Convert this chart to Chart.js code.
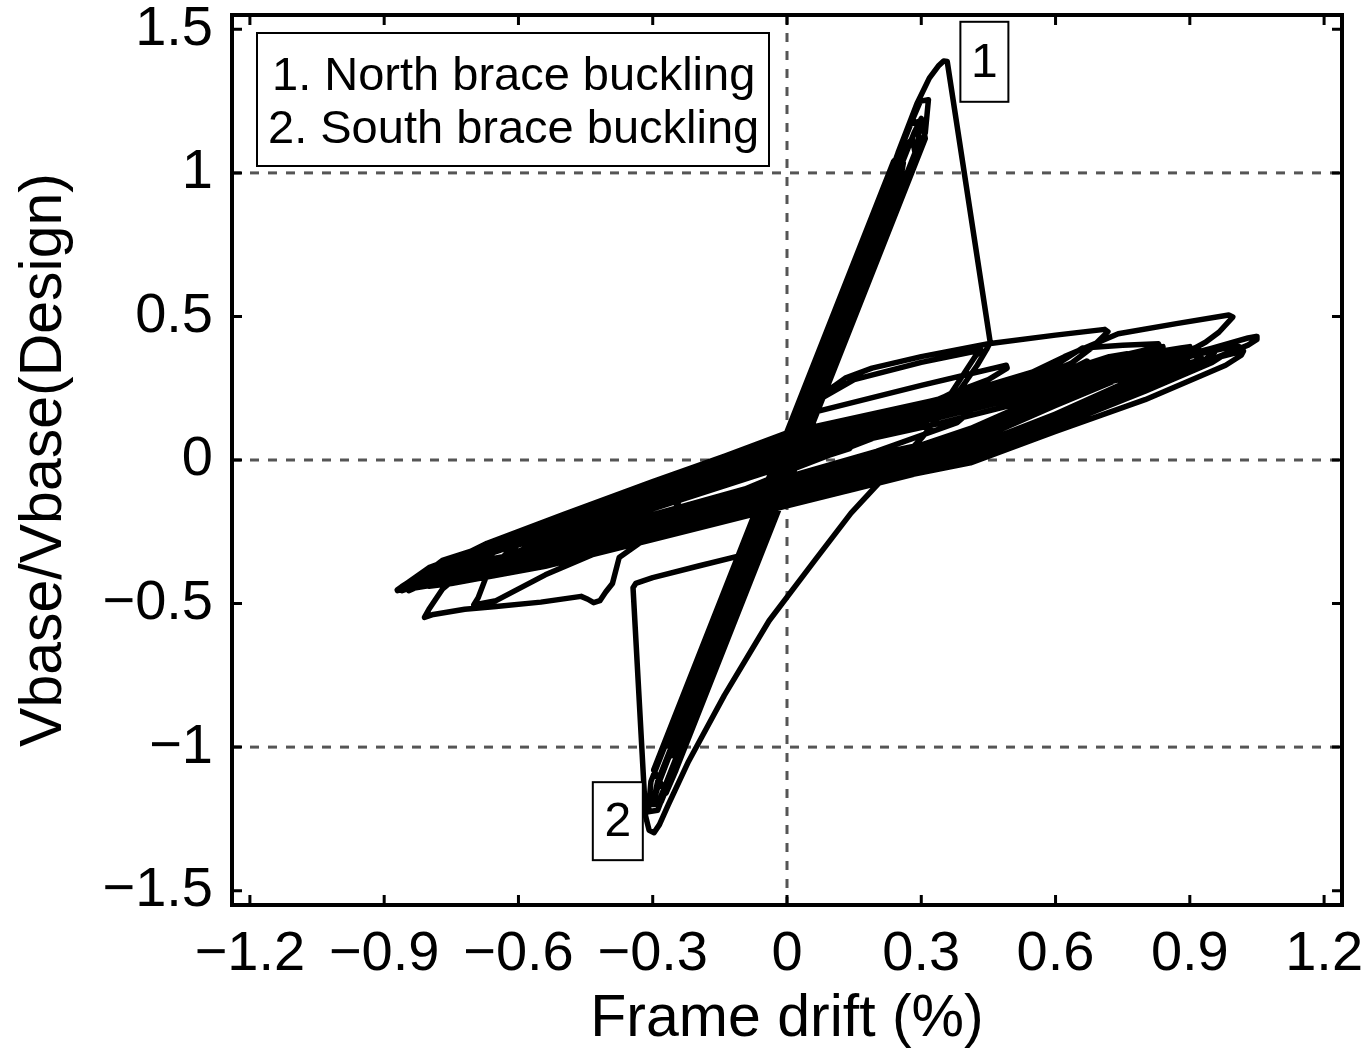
<!DOCTYPE html>
<html>
<head>
<meta charset="utf-8">
<script src="https://cdn.jsdelivr.net/npm/chart.js@4.4.0/dist/chart.umd.min.js"></script>
<style>
  html, body { margin: 0; padding: 0; background: #fff; }
</style>
</head>
<body>
<canvas id="hysteresis" width="1363" height="1058"></canvas>
<script>
// axis ticks and dashed reference lines
const xTicks = [-1.2, -0.9, -0.6, -0.3, 0, 0.3, 0.6, 0.9, 1.2];
const yTicks = [-1.5, -1, -0.5, 0, 0.5, 1, 1.5];
const refX = [0];
const refY = [-1, 0, 1];
const notes = ['1. North brace buckling', '2. South brace buckling'];
const markerText = ['1', '2'];

// drift (%) , Vbase/Vbase(Design), in time order
const elasticCycles = [
  [0, 0], [0.023, 0.13], [0.076, 0.34], [0.086, 0.35],
  [0.071, 0.24], [-0.051, -0.24], [-0.076, -0.34], [-0.084, -0.35],
  [-0.071, -0.24], [0.091, 0.40], [0.152, 0.64], [0.163, 0.655],
  [0.157, 0.58], [-0.137, -0.58], [-0.170, -0.71], [-0.180, -0.72],
  [-0.167, -0.62], [0.193, 0.80], [0.248, 1.02], [0.260, 1.035],
  [0.251, 0.95], [-0.193, -0.80], [-0.248, -1.02], [-0.258, -1.03],
  [-0.263, -0.96], [0.228, 0.98], [0.279, 1.18], [0.298, 1.25], [0.316, 1.255],
  [0.309, 1.14], [-0.264, -1.12], [-0.289, -1.22], [-0.31, -1.225],
  [-0.304, -1.12], [0.243, 1.04], [0.276, 1.17], [0.296, 1.18],
  [0.291, 1.07], [-0.253, -1.08], [-0.281, -1.19], [-0.30, -1.20],
  [-0.289, -1.12], [0.284, 1.14], [0.30, 1.19],
  [0.309, 1.12], [-0.248, -1.08], [-0.27, -1.16],
  [-0.298, -1.08], [0.238, 1.04], [0.26, 1.08],
  [0.256, 0.99], [-0.246, -0.99], [-0.26, -1.02],
  [-0.261, -0.97], [0.258, 1.08], [0.28, 1.12],
  [0.286, 1.07], [-0.289, -1.20], [-0.30, -1.20]
];

const northBuckling = [
  [-0.30, -1.20], [-0.285, -1.12], [0.0, 0.03], [0.20, 0.86], [0.248, 1.07],
  [0.29, 1.24], [0.318, 1.33], [0.338, 1.372], [0.35, 1.39], [0.358, 1.388],
  [0.454, 0.41]
];

const southBuckling = [
  [0.454, 0.41], [0.446, 0.385], [0.425, 0.33], [0.38, 0.23], [0.30, 0.075],
  [0.197, -0.094], [0.143, -0.185], [0.063, -0.348], [-0.04, -0.56], [-0.14, -0.82],
  [-0.22, -1.05], [-0.265, -1.20], [-0.285, -1.27], [-0.297, -1.298], [-0.308, -1.29],
  [-0.316, -1.24], [-0.344, -0.445], [-0.338, -0.43]
];

const postBuckling = [
  [-0.338, -0.43], [-0.30, -0.41], [-0.20, -0.37], [-0.07, -0.32], [-0.03, -0.17],
  [0.02, 0.02], [0.06, 0.17], [0.09, 0.24], [0.13, 0.285], [0.19, 0.32], [0.30, 0.36],
  [0.45, 0.405], [0.60, 0.435], [0.71, 0.455], [0.717, 0.447], [0.68, 0.39], [0.636, 0.338],
  [0.55, 0.28], [0.40, 0.19], [0.20, 0.08], [0.0, -0.04], [-0.2, -0.17], [-0.33, -0.29],
  [-0.375, -0.34], [-0.39, -0.43], [-0.405, -0.46], [-0.418, -0.49], [-0.432, -0.497],
  [-0.445, -0.485], [-0.46, -0.475], [-0.55, -0.495], [-0.65, -0.51], [-0.72, -0.52],
  [-0.79, -0.538], [-0.81, -0.548], [-0.80, -0.52], [-0.77, -0.45]
];

const outerLoops = [
  [-0.67, -0.32], [-0.5, -0.22], [-0.3, -0.10], [0, 0.07], [0.32, 0.2], [0.6, 0.33],
  [0.66, 0.39], [0.75, 0.40], [0.83, 0.405], [0.834, 0.39], [0.83, 0.345],
  [0.8, 0.32], [0.6, 0.19], [0.41, 0.06], [0.2, -0.02], [0, -0.10], [-0.3, -0.22],
  [-0.54, -0.31], [-0.75, -0.37], [-0.84, -0.42], [-0.866, -0.45], [-0.871, -0.453],
  [-0.86, -0.44], [-0.8, -0.39], [-0.67, -0.29], [-0.5, -0.19], [-0.3, -0.075], [0, 0.09],
  [0.32, 0.20], [0.5, 0.27], [0.62, 0.36], [0.74, 0.44], [0.87, 0.475], [0.987, 0.505],
  [0.996, 0.498], [0.965, 0.445], [0.935, 0.41],
  [0.87, 0.355], [0.8, 0.30], [0.6, 0.16], [0.41, 0.03], [0.2, -0.05], [0, -0.13],
  [-0.3, -0.25], [-0.54, -0.34], [-0.75, -0.41], [-0.83, -0.445], [-0.845, -0.455],
  [-0.835, -0.43], [-0.79, -0.39], [-0.67, -0.31], [-0.5, -0.21], [-0.3, -0.09], [0, 0.08],
  [0.32, 0.19], [0.6, 0.27], [0.83, 0.34], [0.95, 0.39], [1.03, 0.425], [1.048, 0.43],
  [1.05, 0.42], [1.03, 0.40], [0.95, 0.35], [0.8, 0.26], [0.6, 0.127], [0.41, 0.0],
  [0.2, -0.082], [0, -0.16], [-0.3, -0.277], [-0.54, -0.37], [-0.75, -0.43], [-0.80, -0.44]
];

const innerLoops = [
  [-0.79, -0.42], [-0.75, -0.37], [-0.67, -0.33], [-0.5, -0.24], [-0.3, -0.12], [0, 0.05],
  [0.32, 0.16], [0.6, 0.26], [0.83, 0.33], [0.92, 0.37], [0.925, 0.36], [0.9, 0.33],
  [0.8, 0.27], [0.6, 0.15], [0.41, 0.04], [0.2, -0.04], [0, -0.12], [-0.3, -0.24],
  [-0.54, -0.40], [-0.65, -0.49], [-0.70, -0.505],
  [-0.69, -0.48], [-0.669, -0.394], [-0.5, -0.27], [-0.3, -0.14], [0, 0.03], [0.32, 0.14],
  [0.55, 0.25], [0.67, 0.345], [0.678, 0.335], [0.65, 0.29], [0.6, 0.24], [0.41, 0.11],
  [0.2, 0.0], [0, -0.08], [-0.3, -0.20], [-0.54, -0.32], [-0.74, -0.40],
  [-0.70, -0.33], [-0.5, -0.22], [-0.3, -0.11], [-0.05, 0.03], [0.07, 0.17], [0.3, 0.26],
  [0.49, 0.33], [0.492, 0.32], [0.45, 0.28], [0.376, 0.237], [0.2, 0.12], [0, 0.0],
  [-0.3, -0.15], [-0.54, -0.28], [-0.62, -0.33], [-0.64, -0.36],
  [-0.63, -0.34], [-0.6, -0.29], [-0.5, -0.23], [-0.3, -0.11], [0, 0.06], [0.06, 0.2],
  [0.15, 0.28], [0.3, 0.34], [0.434, 0.383], [0.42, 0.36], [0.367, 0.233], [0.2, 0.10],
  [0, -0.02], [-0.3, -0.17], [-0.54, -0.29], [-0.7, -0.37], [-0.82, -0.43], [-0.83, -0.44],
  [-0.82, -0.42], [-0.78, -0.37], [-0.67, -0.30], [-0.5, -0.20], [-0.3, -0.085], [0, 0.085],
  [0.32, 0.20], [0.6, 0.26], [0.82, 0.33], [0.95, 0.38], [1.0, 0.40], [1.01, 0.395],
  [0.98, 0.37], [0.9, 0.32], [0.8, 0.25], [0.6, 0.14], [0.41, 0.02], [0.2, -0.07],
  [0, -0.14], [-0.3, -0.26], [-0.54, -0.355], [-0.7, -0.41], [-0.78, -0.43],
  [-0.77, -0.41], [-0.72, -0.35], [-0.5, -0.23], [-0.3, -0.12], [0, 0.04], [0.32, 0.17],
  [0.6, 0.28], [0.68, 0.32], [0.69, 0.31], [0.66, 0.27], [0.6, 0.21], [0.41, 0.08],
  [0.2, -0.01], [0, -0.09], [-0.3, -0.21], [-0.5, -0.30], [-0.55, -0.33]
];

const lateLoops = [
  [-0.55, -0.33], [-0.5, -0.24], [-0.3, -0.12], [0, 0.05], [0.32, 0.16], [0.6, 0.266],
  [0.82, 0.35], [0.9, 0.37], [0.95, 0.385], [0.955, 0.375], [0.93, 0.345], [0.65, 0.16],
  [0.41, 0.03], [0.2, -0.055], [0, -0.13], [-0.3, -0.245], [-0.54, -0.335], [-0.75, -0.40],
  [-0.85, -0.44], [-0.86, -0.445],
  [-0.85, -0.43], [-0.8, -0.375], [-0.67, -0.30], [-0.5, -0.22], [-0.3, -0.10], [0, 0.07],
  [0.32, 0.18], [0.6, 0.29], [0.8, 0.37], [0.88, 0.39], [0.9, 0.395], [0.89, 0.37],
  [0.85, 0.33], [0.6, 0.16], [0.41, 0.045], [0.2, -0.035], [0, -0.11], [-0.3, -0.23],
  [-0.54, -0.32], [-0.7, -0.385], [-0.76, -0.41],
  [-0.75, -0.39], [-0.7, -0.33], [-0.5, -0.26], [-0.3, -0.14], [0, 0.03], [0.32, 0.14],
  [0.6, 0.25], [0.8, 0.31], [0.97, 0.36], [1.02, 0.38], [1.015, 0.365], [0.98, 0.33],
  [0.8, 0.21], [0.6, 0.10], [0.41, -0.01], [0.2, -0.075], [0, -0.15], [-0.3, -0.265],
  [-0.54, -0.36], [-0.75, -0.425], [-0.85, -0.45], [-0.86, -0.455],
  [-0.855, -0.445], [-0.82, -0.41], [-0.67, -0.31], [-0.5, -0.20], [-0.3, -0.08], [0, 0.09],
  [0.32, 0.2], [0.6, 0.30], [0.72, 0.36], [0.76, 0.37], [0.755, 0.355], [0.72, 0.31],
  [0.6, 0.22], [0.41, 0.09], [0.2, 0.02], [0, -0.06], [-0.3, -0.19], [-0.54, -0.30],
  [-0.65, -0.35], [-0.68, -0.36],
  [-0.67, -0.34], [-0.62, -0.28], [-0.5, -0.25], [-0.3, -0.16], [0, 0.01], [0.32, 0.12],
  [0.6, 0.23], [0.8, 0.30], [0.86, 0.32], [0.88, 0.325], [0.87, 0.305], [0.83, 0.27],
  [0.6, 0.12], [0.41, 0.01], [0.2, -0.065], [0, -0.14], [-0.3, -0.255], [-0.54, -0.35],
  [-0.75, -0.415], [-0.8, -0.43],
  [-0.79, -0.41], [-0.74, -0.34], [-0.5, -0.23], [-0.3, -0.11], [0, 0.06], [0.32, 0.17],
  [0.6, 0.28], [0.75, 0.34], [0.8, 0.355], [0.79, 0.335], [0.75, 0.29], [0.6, 0.19],
  [0.41, 0.07], [0.2, -0.015], [0, -0.10], [-0.3, -0.22], [-0.54, -0.325], [-0.6, -0.345],
  [-0.59, -0.33], [-0.55, -0.27], [-0.3, -0.13], [0, 0.04], [0.32, 0.15], [0.5, 0.22],
  [0.55, 0.235], [0.54, 0.215], [0.5, 0.17], [0.41, 0.1], [0.2, 0.01], [0, -0.07],
  [-0.3, -0.19], [-0.5, -0.29], [-0.54, -0.31]
];

const finalLoops = [
  [-0.54, -0.31], [-0.7, -0.39], [-0.82, -0.44], [-0.84, -0.445],
  [-0.8, -0.40], [-0.74, -0.34], [-0.5, -0.25], [-0.3, -0.13], [0, 0.04], [0.32, 0.15],
  [0.6, 0.255], [0.85, 0.345], [0.98, 0.39], [1.0, 0.395], [0.99, 0.38], [0.95, 0.34],
  [0.8, 0.24], [0.6, 0.115], [0.41, 0.005], [0.2, -0.06], [0, -0.125], [-0.3, -0.235],
  [-0.54, -0.33], [-0.75, -0.405], [-0.83, -0.43],
  [-0.82, -0.41], [-0.77, -0.35], [-0.5, -0.215], [-0.3, -0.095], [0, 0.075], [0.32, 0.185],
  [0.6, 0.285], [0.8, 0.36], [0.9, 0.39], [0.92, 0.385], [0.89, 0.35], [0.8, 0.28],
  [0.6, 0.145], [0.41, 0.035], [0.2, -0.045], [0, -0.12], [-0.3, -0.24], [-0.54, -0.345],
  [-0.75, -0.42], [-0.87, -0.455],
  [-0.86, -0.44], [-0.81, -0.39], [-0.67, -0.295], [-0.5, -0.195], [-0.3, -0.08], [0, 0.095],
  [0.32, 0.205], [0.6, 0.31], [0.82, 0.39], [0.84, 0.395], [0.835, 0.37], [0.8, 0.33],
  [0.6, 0.2], [0.41, 0.08], [0.2, 0.0], [0, -0.08], [-0.3, -0.2], [-0.54, -0.3],
  [-0.62, -0.34], [-0.64, -0.35],
  [-0.63, -0.33], [-0.58, -0.27], [-0.3, -0.125], [0, 0.045], [0.32, 0.155], [0.6, 0.265],
  [0.7, 0.30], [0.72, 0.305], [0.71, 0.285], [0.66, 0.24], [0.41, 0.06], [0.2, -0.03],
  [0, -0.105], [-0.3, -0.225], [-0.54, -0.32],
  [-0.5, -0.25], [-0.3, -0.13], [0, 0.02], [0.32, 0.15], [0.4, 0.18], [0.41, 0.17],
  [0.38, 0.13], [0.2, 0.03], [0, -0.06], [-0.2, -0.15], [-0.25, -0.17], [-0.24, -0.14],
  [0, -0.01], [0.15, 0.06], [0.14, 0.04], [0, -0.03]
];

const path = [elasticCycles, northBuckling, southBuckling, postBuckling,
  outerLoops, innerLoops, lateLoops, finalLoops]
  .flat()
  .map(([x, y]) => ({ x, y }));

const FONT = 'Liberation Sans, Arial, Helvetica, sans-serif';
Chart.defaults.font.family = FONT;

function fmt(v) {
  const r = Math.round(v * 10) / 10;
  return r < 0 ? '\u2212' + Math.abs(r) : String(r);
}

// dashed reference lines, box frame with inward ticks, text boxes
const framePlugin = {
  id: 'framePlugin',
  beforeDatasetsDraw(chart) {
    const { ctx, chartArea: a, scales: { x, y } } = chart;
    ctx.save();
    ctx.strokeStyle = '#555';
    ctx.lineWidth = 3;
    ctx.setLineDash([9, 9]);
    refY.forEach(v => {
      const py = y.getPixelForValue(v);
      ctx.beginPath(); ctx.moveTo(a.left, py); ctx.lineTo(a.right, py); ctx.stroke();
    });
    refX.forEach(v => {
      const px = x.getPixelForValue(v);
      ctx.beginPath(); ctx.moveTo(px, a.top); ctx.lineTo(px, a.bottom); ctx.stroke();
    });
    ctx.restore();
  },
  afterDatasetsDraw(chart) {
    const { ctx, chartArea: a, scales: { x, y } } = chart;
    ctx.save();
    ctx.strokeStyle = '#000';
    ctx.lineWidth = 3;
    const tl = 10;
    xTicks.forEach(v => {
      const px = x.getPixelForValue(v);
      ctx.beginPath();
      ctx.moveTo(px, a.bottom); ctx.lineTo(px, a.bottom - tl);
      ctx.moveTo(px, a.top); ctx.lineTo(px, a.top + tl);
      ctx.stroke();
    });
    yTicks.forEach(v => {
      const py = y.getPixelForValue(v);
      ctx.beginPath();
      ctx.moveTo(a.left, py); ctx.lineTo(a.left + tl, py);
      ctx.moveTo(a.right, py); ctx.lineTo(a.right - tl, py);
      ctx.stroke();
    });
    ctx.lineWidth = 4;
    ctx.strokeRect(a.left, a.top, a.right - a.left, a.bottom - a.top);

    // note box top left
    ctx.fillStyle = '#fff';
    ctx.lineWidth = 2;
    ctx.fillRect(a.left + 25, a.top + 18, 512, 133);
    ctx.strokeRect(a.left + 25, a.top + 18, 512, 133);
    ctx.fillStyle = '#000';
    ctx.font = '47px ' + FONT;
    ctx.textAlign = 'left';
    ctx.textBaseline = 'alphabetic';
    ctx.fillText(notes[0], a.left + 40, a.top + 75);
    ctx.fillText(notes[1], a.left + 36, a.top + 128);

    // numbered boxes beside the buckling points
    const spots = [[0.441, 1.387, 48, 80], [-0.378, -1.258, 50, 78]];
    ctx.font = '48px ' + FONT;
    ctx.textAlign = 'center';
    ctx.textBaseline = 'middle';
    spots.forEach(([vx, vy, w, h], i) => {
      const cx = x.getPixelForValue(vx), cy = y.getPixelForValue(vy);
      ctx.fillStyle = '#fff';
      ctx.fillRect(cx - w / 2, cy - h / 2, w, h);
      ctx.strokeRect(cx - w / 2, cy - h / 2, w, h);
      ctx.fillStyle = '#000';
      ctx.fillText(markerText[i], cx, cy + 2);
    });
    ctx.restore();
  }
};

new Chart(document.getElementById('hysteresis'), {
  type: 'line',
  data: {
    datasets: [{
      data: path,
      borderColor: '#000',
      borderWidth: 5.5,
      pointRadius: 0,
      fill: false,
      tension: 0,
      borderJoinStyle: 'round',
      borderCapStyle: 'round'
    }]
  },
  options: {
    responsive: false,
    animation: false,
    layout: { padding: { top: 15, right: 21, left: 0, bottom: 0 } },
    plugins: { legend: { display: false }, tooltip: { enabled: false } },
    scales: {
      x: {
        type: 'linear',
        min: -1.24,
        max: 1.24,
        grid: { display: false, drawTicks: false },
        border: { display: false },
        afterBuildTicks: s => { s.ticks = xTicks.map(v => ({ value: v })); },
        afterFit: s => { s.height = 153; s.paddingLeft = 0; s.paddingRight = 0; },
        ticks: {
          autoSkip: false, maxRotation: 0, padding: 16, color: '#000',
          font: { size: 56 }, callback: fmt
        },
        title: {
          display: true, text: 'Frame drift (%)', color: '#000',
          font: { size: 59 }, padding: { top: 0, bottom: 3 }
        }
      },
      y: {
        type: 'linear',
        min: -1.55,
        max: 1.55,
        grid: { display: false, drawTicks: false },
        border: { display: false },
        afterBuildTicks: s => { s.ticks = yTicks.map(v => ({ value: v })); },
        afterFit: s => { s.width = 232; s.paddingTop = 0; s.paddingBottom = 0; },
        ticks: {
          autoSkip: false, padding: 19, color: '#000',
          font: { size: 56 }, callback: fmt
        },
        title: {
          display: true, text: 'Vbase/Vbase(Design)', color: '#000',
          font: { size: 59 }, padding: { top: 9, bottom: 0 }
        }
      }
    }
  },
  plugins: [framePlugin]
});
</script>
</body>
</html>
